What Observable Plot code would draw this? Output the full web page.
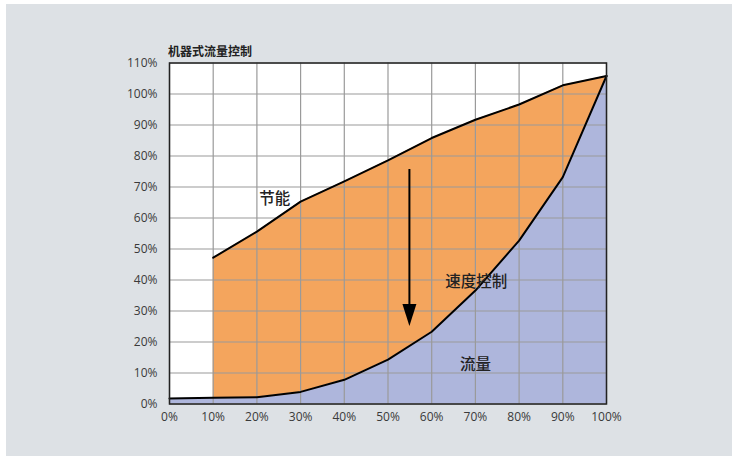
<!DOCTYPE html>
<html>
<head>
<meta charset="utf-8">
<script src="https://cdn.jsdelivr.net/npm/d3@7"></script>
<script src="https://cdn.jsdelivr.net/npm/@observablehq/plot@0.6"></script>
<style>
  html, body { margin: 0; padding: 0; background: #ffffff; }
  #wrap { position: relative; width: 734px; height: 456px; overflow: hidden; }
  #bg { position: absolute; left: 6px; top: 4px; width: 726px; height: 452px; background: #dde1e5; }
  #title { position: absolute; left: 168px; top: 42px; font-family: "Noto Sans CJK SC", sans-serif; font-size: 12px; font-weight: 700; color: #222; }
  #chart { position: absolute; left: 0; top: 0; }
</style>
</head>
<body>
<div id="wrap">
  <div id="bg"></div>
  <div id="chart"></div>
  <div id="title">机器式流量控制</div>
</div>
<script>
const flowPct = [0, 10, 20, 30, 40, 50, 60, 70, 80, 90, 100];
const mechanicalPower = [null, 47.2, 55.6, 65.3, 71.8, 78.6, 85.8, 91.7, 96.6, 102.8, 105.8];
const speedPower = [1.8, 2.0, 2.2, 3.9, 7.8, 14.3, 23.3, 36.6, 52.7, 73.2, 105.8];
const xTicks = [0, 10, 20, 30, 40, 50, 60, 70, 80, 90, 100];
const yTicks = [0, 10, 20, 30, 40, 50, 60, 70, 80, 90, 100, 110];
const labels = [
  {x: 24.1, y: 66.2, text: "节能"},
  {x: 70.2, y: 39.3, text: "速度控制"},
  {x: 70.0, y: 12.6, text: "流量"}
];
const arrowX = 54.9;
const arrowY1 = 75.8;
const arrowY2 = 25.2;

const rows = flowPct.map((x, i) => ({x, upper: mechanicalPower[i], lower: speedPower[i]}));
const upperRows = rows.filter(d => d.upper != null);

const headSymbol = {
  draw(context, size) {
    context.moveTo(-7, -22);
    context.lineTo(7, -22);
    context.lineTo(0, 0);
    context.closePath();
  }
};

const pct = d => d + "%";

const chart = Plot.plot({
  width: 734,
  height: 456,
  marginLeft: 169,
  marginRight: 128,
  marginTop: 62.5,
  marginBottom: 52.5,
  style: {background: "transparent", fontFamily: "'Open Sans', 'Noto Sans', sans-serif", color: "#3a3a3a"},
  x: {domain: [0, 100]},
  y: {domain: [0, 110]},
  marks: [
    Plot.rect([0], {x1: 0, x2: 100, y1: 0, y2: 110, fill: "#ffffff"}),
    Plot.areaY(rows, {x: "x", y1: 0, y2: "lower", fill: "#aeb6dc"}),
    Plot.areaY(upperRows, {x: "x", y1: "lower", y2: "upper", fill: "#f4a55d"}),
    Plot.gridX(xTicks, {stroke: "#9a9a9a", strokeOpacity: 1, strokeWidth: 1.2}),
    Plot.gridY(yTicks, {stroke: "#9a9a9a", strokeOpacity: 1, strokeWidth: 1.2}),
    Plot.axisX(xTicks, {tickFormat: pct, tickSize: 0, tickPadding: 8, label: null, fontSize: 12}),
    Plot.axisY(yTicks, {tickFormat: pct, tickSize: 0, tickPadding: 12, label: null, fontSize: 12}),
    Plot.line(upperRows, {x: "x", y: "upper", stroke: "#000", strokeWidth: 2}),
    Plot.line(rows, {x: "x", y: "lower", stroke: "#000", strokeWidth: 2}),
    Plot.link([0], {x1: arrowX, x2: arrowX, y1: arrowY1, y2: arrowY2 + 5, stroke: "#000", strokeWidth: 2}),
    Plot.dot([0], {x: arrowX, y: arrowY2, symbol: headSymbol, fill: "#000", stroke: "none"}),
    Plot.text(labels, {x: "x", y: "y", text: "text", fontSize: 15.5, fontFamily: "'Noto Sans CJK SC', sans-serif", fill: "#222", fontWeight: 500}),
    Plot.frame({stroke: "#222", strokeWidth: 1.5})
  ]
});
document.getElementById("chart").appendChild(chart);
</script>
</body>
</html>
